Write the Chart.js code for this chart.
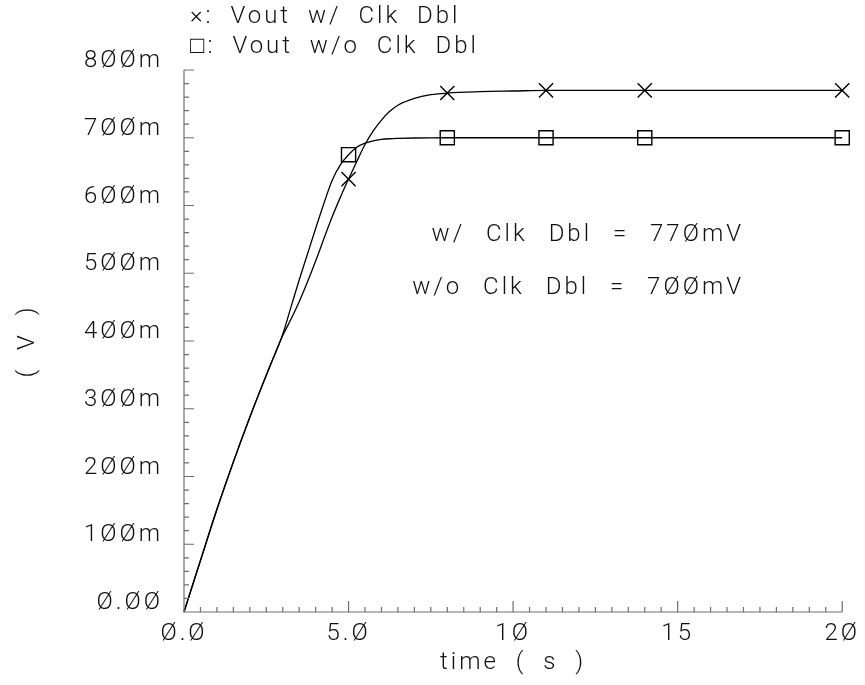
<!DOCTYPE html>
<html>
<head>
<meta charset="utf-8">
<script src="https://cdn.jsdelivr.net/npm/chart.js@4.4.1/dist/chart.umd.min.js"></script>
<style>
  html, body { margin: 0; padding: 0; background: #fff; }
  #wrap { width: 865px; height: 685px; }
</style>
</head>
<body>
<div id="wrap"><canvas id="vout"></canvas></div>
<script>
// transient sim: Vout (mV) vs time (s)
const times      = [0, 0.5, 1, 1.5, 2, 2.5, 3, 3.25, 3.5, 3.75, 4, 4.25, 4.5, 4.75, 5, 5.25, 5.5, 5.75, 6, 6.25, 6.5, 7, 7.5, 8, 9, 10, 11, 12, 14, 16, 18, 20];
const voutDbl    = [0, 76, 151, 221, 287, 349, 408, 432, 458, 487, 518, 551, 583, 612, 639, 665, 690, 710, 726, 739, 748, 758, 763.5, 766, 768, 769, 770, 770, 770, 770, 770, 770];
const voutNoDbl  = [0, 76, 152, 222, 288, 350, 410, 450, 490, 528, 566, 603, 637, 660, 675, 686, 692, 695.5, 697.5, 698.5, 699, 699.6, 699.9, 700, 700, 700, 700, 700, 700, 700, 700, 700];
const markTimes  = [5, 8, 11, 14, 17, 20];
const seriesNames = ['Vout w/ Clk Dbl', 'Vout w/o Clk Dbl'];
const seriesSyms  = ['\u00d7', '\u25a1'];
const noteNames   = ['w/ Clk Dbl', 'w/o Clk Dbl'];
const xTicks = [0, 5, 10, 15, 20];
const yTicks = [0, 100, 200, 300, 400, 500, 600, 700, 800];

const FONT = 'Roboto';
const FSIZE = 24;
const INK = '#111';
const AXIS = '#6e6e6e';

// slashed zeros, like the plotter font
const slash = s => String(s).replace(/0/g, '\u00d8');

function pts(ys) {
  return times.map((t, i) => ({ x: t, y: ys[i] }));
}
const markRadius = ctx => markTimes.includes(times[ctx.dataIndex]) ? 10 : 0;

const lineStyle = {
  borderColor: '#000',
  borderWidth: 1.3,
  pointBorderColor: '#000',
  pointBackgroundColor: 'rgba(0,0,0,0)',
  pointBorderWidth: 1.4,
  pointRadius: markRadius,
  pointHoverRadius: markRadius,
  cubicInterpolationMode: 'monotone',
  clip: false
};
const textFont = { family: FONT, size: FSIZE, weight: 300 };

const frame = {
  id: 'frame',
  beforeDraw(chart) {
    // wide stroke-font look
    chart.ctx.letterSpacing = '3px';
    chart.ctx.wordSpacing = '8px';
  },
  afterDraw(chart) {
    const { ctx, chartArea: a, scales: { x, y } } = chart;
    ctx.save();
    ctx.strokeStyle = AXIS;
    ctx.lineWidth = 1.2;
    ctx.beginPath();
    ctx.moveTo(a.left, a.top);
    ctx.lineTo(a.left, a.bottom);
    ctx.lineTo(a.right, a.bottom);
    // inward tick marks, minor every 0.5 s / 20 mV
    for (let t = x.min; t <= x.max + 1e-9; t += 0.5) {
      const px = x.getPixelForValue(t);
      const len = xTicks.includes(t) ? 11 : 5;
      ctx.moveTo(px, a.bottom);
      ctx.lineTo(px, a.bottom - len);
    }
    for (let v = y.min; v <= y.max + 1e-9; v += 20) {
      const py = y.getPixelForValue(v);
      const len = yTicks.includes(v) ? 10 : 5;
      ctx.moveTo(a.left, py);
      ctx.lineTo(a.left + len, py);
    }
    ctx.stroke();

    // legend lines at the top
    ctx.fillStyle = INK;
    ctx.font = `300 ${FSIZE}px ${FONT}`;
    ctx.textAlign = 'left';
    ctx.textBaseline = 'middle';
    seriesNames.forEach((n, i) => {
      ctx.fillText(seriesSyms[i] + ': ' + n, a.left + 6, 17 + i * 30);
    });

    // settled values
    const finals = [voutDbl[voutDbl.length - 1], voutNoDbl[voutNoDbl.length - 1]];
    ctx.textAlign = 'right';
    ctx.wordSpacing = '12px';
    noteNames.forEach((n, i) => {
      ctx.fillText(n + ' = ' + slash(finals[i]) + 'mV', 744, 235 + i * 53);
    });
    ctx.restore();
  }
};

new Chart(document.getElementById('vout'), {
  type: 'line',
  data: {
    datasets: [
      Object.assign({ label: seriesNames[0], data: pts(voutDbl), pointStyle: 'crossRot' }, lineStyle),
      Object.assign({ label: seriesNames[1], data: pts(voutNoDbl), pointStyle: 'rect' }, lineStyle)
    ]
  },
  options: {
    responsive: true,
    maintainAspectRatio: false,
    animation: false,
    events: [],
    layout: { padding: { top: 70, right: 17, left: 0, bottom: 0 } },
    plugins: { legend: { display: false }, tooltip: { enabled: false } },
    scales: {
      x: {
        type: 'linear',
        min: 0,
        max: 20,
        afterBuildTicks: s => { s.ticks = xTicks.map(v => ({ value: v })); },
        afterFit: s => { s.height = 73; },
        grid: { display: false, drawTicks: false },
        border: { display: false },
        ticks: {
          color: INK,
          padding: 8,
          maxRotation: 0,
          font: textFont,
          callback: v => slash(v < 10 ? v.toFixed(1) : String(v))
        },
        title: {
          display: true,
          text: 'time ( s )',
          color: INK,
          padding: { top: 0, bottom: 8 },
          font: textFont
        }
      },
      y: {
        type: 'linear',
        min: 0,
        max: 800,
        afterBuildTicks: s => { s.ticks = yTicks.map(v => ({ value: v })); },
        afterFit: s => { s.width = 184; },
        grid: { display: false, drawTicks: false },
        border: { display: false },
        ticks: {
          color: INK,
          padding: 21,
          labelOffset: -9,
          font: textFont,
          callback: v => v === 0 ? slash('0.00') : slash(v) + 'm'
        },
        title: {
          display: true,
          text: '( V )',
          color: INK,
          padding: { top: 14, bottom: 0 },
          font: textFont
        }
      }
    }
  },
  plugins: [frame]
});
</script>
</body>
</html>
